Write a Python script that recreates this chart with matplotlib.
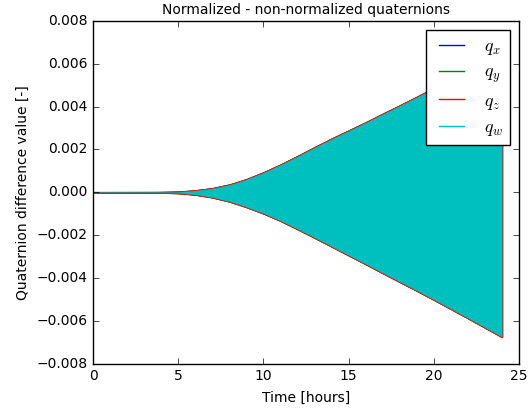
import matplotlib
matplotlib.use("Agg")
import matplotlib.pyplot as plt
import numpy as np

plt.style.use("classic")
plt.rcParams["mathtext.fontset"] = "cm"
plt.rcParams["font.family"] = ["DejaVu Sans"]

# Envelope of the oscillating quaternion differences
time_hours = [0, 4, 5, 6, 7, 8, 9, 10, 11, 12, 13, 14, 15, 16, 17, 18, 19, 20, 21, 22, 23, 24]
upper_env = [0.0, 0.00001, 0.00003, 0.00009, 0.00019, 0.00036, 0.00061, 0.00093, 0.00129,
             0.00169, 0.00210, 0.00250, 0.00288, 0.00326, 0.00366, 0.00405, 0.00445,
             0.00486, 0.00526, 0.00566, 0.00606, 0.00646]
lower_env = [0.0, -0.00001, -0.00003, -0.00010, -0.00023, -0.00042, -0.00068, -0.00098, -0.00132,
             -0.00171, -0.00211, -0.00252, -0.00293, -0.00334, -0.00376, -0.00417, -0.00458,
             -0.00500, -0.00543, -0.00586, -0.00630, -0.00674]

series_labels = [r"$q_x$", r"$q_y$", r"$q_z$", r"$q_w$"]
series_colors = ["b", "g", "r", "c"]
edge_widths = [1.0, 1.2, 1.0, 0.0]

x_ticks = [0, 5, 10, 15, 20, 25]
y_ticks = [-0.008, -0.006, -0.004, -0.002, 0.0, 0.002, 0.004, 0.006, 0.008]

fig = plt.figure(figsize=(5.29, 4.08), dpi=100)
ax = fig.add_axes([0.176, 0.108, 0.805, 0.841])

t = np.array(time_hours)
up = np.array(upper_env)
lo = np.array(lower_env)
for lab, col, ew in zip(series_labels, series_colors, edge_widths):
    ax.fill_between(t, lo, up, facecolor=col, edgecolor=col, linewidth=ew)
    ax.plot([], [], color=col, label=lab)
# thin centre line where amplitude is negligible
ax.plot(t[:3], (up[:3] + lo[:3]) / 2, color="#4a7a7a", lw=1.0)

ax.set_xlim(0, 25)
ax.set_ylim(-0.008, 0.008)
ax.set_xticks(x_ticks)
ax.set_yticks(y_ticks)
ax.set_yticklabels(["\u22120.008", "\u22120.006", "\u22120.004", "\u22120.002",
                    "0.000", "0.002", "0.004", "0.006", "0.008"])
ax.tick_params(labelsize=10)
ax.set_xlabel("Time [hours]", fontsize=10)
ax.set_ylabel("Quaternion difference value [-]", fontsize=10)
ax.set_title("Normalized - non-normalized quaternions", fontsize=10)
leg = ax.legend(loc="upper right", fontsize=13, handlelength=2.0, labelspacing=0.35,
                borderaxespad=0.5, frameon=True, fancybox=False)
leg.get_frame().set_edgecolor("black")

fig.savefig("out.png", dpi=100)
